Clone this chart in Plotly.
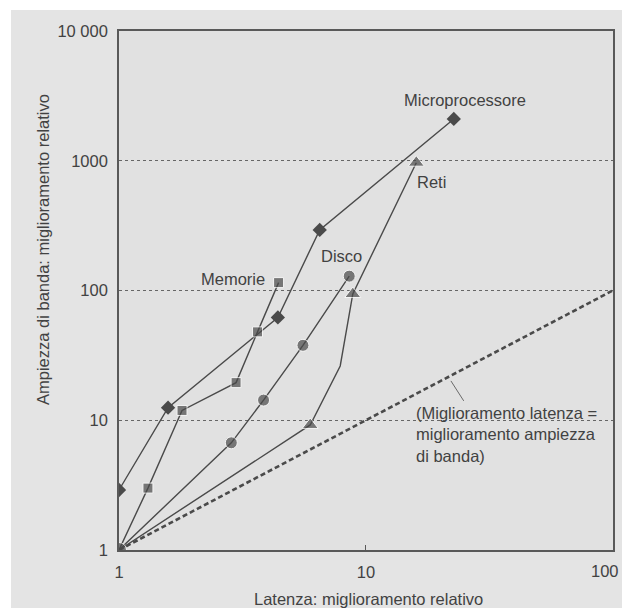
import plotly.graph_objects as go

# Relative improvement: latency (x) vs bandwidth (y)
lat_micro = [1, 1.58, 4.4, 6.5, 22.7]
bw_micro = [2.9, 12.5, 62, 293, 2100]

lat_mem = [1, 1.31, 1.80, 2.98, 3.64, 4.43]
bw_mem = [1, 3.0, 11.9, 19.5, 48, 115]

lat_disk = [1, 2.85, 3.85, 5.56, 8.56]
bw_disk = [1, 6.7, 14.3, 37.8, 129]

lat_net = [1, 5.95, 7.87, 8.85, 16.0]
bw_net = [1, 9.2, 26.2, 94, 966]

ref_lat = [1, 100]
ref_bw = [1, 100]

x_ticks = [1, 10, 100]
x_tick_text = ["1", "10", ""]   # the last label is placed by hand so it stays inside the page
x_last_label = "100"
y_ticks = [1, 10, 100, 1000, 10000]
y_tick_text = ["1", "10", "100", "1000", "10 000"]

W, H = 622, 608
L, R, T, B = 119, 613, 31, 550

INK = "#4a4a4a"
TEXT = "#424242"
FONT = "Arial, Liberation Sans, sans-serif"
FS = 16.5


def px(xp, yp):
    """Pixel position -> paper fraction."""
    return (xp - L) / (R - L), (B - yp) / (B - T)


fig = go.Figure()

line = dict(color=INK, width=1.4)

# y = x reference
fig.add_trace(go.Scatter(x=ref_lat, y=ref_bw, mode="lines",
                         line=dict(color=INK, width=2.6, dash="5px,3px"),
                         hoverinfo="skip"))

fig.add_trace(go.Scatter(x=lat_micro, y=bw_micro, mode="lines+markers", line=line,
                         marker=dict(symbol="diamond", size=11, color=INK)))

fig.add_trace(go.Scatter(x=lat_mem, y=bw_mem, mode="lines+markers", line=line,
                         marker=dict(symbol="square", size=[0, 10, 10, 10, 10, 10], color=INK)))

fig.add_trace(go.Scatter(x=lat_net, y=bw_net, mode="lines+markers", line=line,
                         marker=dict(symbol="triangle-up", size=[0, 14, 0, 14, 14], color=INK)))

fig.add_trace(go.Scatter(x=lat_disk, y=bw_disk, mode="lines+markers", line=line,
                         marker=dict(symbol="circle", size=[15, 12, 12, 12, 12], color=INK)))

# leader from the reference line to its caption
fig.add_trace(go.Scatter(x=[22.1, 24.9], y=[20.1, 14.1], mode="lines",
                         line=dict(color="#6a6a6a", width=1), hoverinfo="skip"))

labels = [
    ("Microprocessore", 465, 100, "center"),
    ("Reti", 431, 182, "center"),
    ("Disco", 341, 256, "center"),
    ("Memorie", 267, 279, "right"),
]
anns = []
for txt, xp, yp, al in labels:
    ax, ay = px(xp, yp)
    anns.append(dict(text=txt, x=ax, y=ay, xref="paper", yref="paper",
                     xanchor=al, yanchor="middle", showarrow=False,
                     font=dict(size=FS, color=TEXT, family=FONT)))

ax, ay = px(414, 434)
anns.append(dict(text="(Miglioramento latenza =<br>miglioramento ampiezza<br>di banda)",
                 x=ax, y=ay, xref="paper", yref="paper", xanchor="left", yanchor="middle",
                 align="left", showarrow=False,
                 font=dict(size=FS, color=TEXT, family=FONT)))

# right-most x tick label, pulled in to the page edge
ax, ay = px(621, 571)
anns.append(dict(text=x_last_label, x=ax, y=ay, xref="paper", yref="paper",
                 xanchor="right", yanchor="middle", showarrow=False,
                 font=dict(size=FS, color=TEXT, family=FONT)))

ax, ay = px(368, 599)
anns.append(dict(text="Latenza: miglioramento relativo", x=ax, y=ay,
                 xref="paper", yref="paper", xanchor="center", yanchor="middle",
                 showarrow=False, font=dict(size=FS, color=TEXT, family=FONT)))

ax, ay = px(43, 250)
anns.append(dict(text="Ampiezza di banda: miglioramento relativo", x=ax, y=ay,
                 xref="paper", yref="paper", xanchor="center", yanchor="middle",
                 textangle=-90, showarrow=False,
                 font=dict(size=FS, color=TEXT, family=FONT)))

# white scanner margins at the top and left edge
shapes = [
    dict(type="rect", xref="paper", yref="paper",
         x0=px(0, 0)[0], x1=px(W, 0)[0], y0=px(0, 10)[1], y1=px(0, 0)[1],
         fillcolor="white", line=dict(width=0), layer="below"),
    dict(type="rect", xref="paper", yref="paper",
         x0=px(0, 0)[0], x1=px(11, 0)[0], y0=px(0, H)[1], y1=px(0, 0)[1],
         fillcolor="white", line=dict(width=0), layer="below"),
]

fig.update_layout(
    width=W, height=H,
    margin=dict(l=L, r=W - R, t=T, b=H - B, pad=0, autoexpand=False),
    paper_bgcolor="#e4e4e4",
    plot_bgcolor="#e1e1e1",
    showlegend=False,
    annotations=anns,
    shapes=shapes,
    font=dict(family=FONT, color=TEXT, size=FS),
)

fig.update_xaxes(type="log", range=[0, 2.0008], tickvals=x_ticks, ticktext=x_tick_text,
                 showgrid=False, zeroline=False, automargin=False,
                 showline=True, mirror=True, linecolor="#595959", linewidth=1.6,
                 ticks="inside", ticklen=5, tickcolor="#595959", tickwidth=1,
                 ticklabelstandoff=6,
                 tickfont=dict(size=FS, color=TEXT, family=FONT))

fig.update_yaxes(type="log", range=[0, 4], tickvals=y_ticks, ticktext=y_tick_text,
                 showgrid=True, gridcolor="#666666", gridwidth=1.4, griddash="dot",
                 zeroline=False, automargin=False,
                 showline=True, mirror=True, linecolor="#595959", linewidth=1.6,
                 ticks="", ticklabelstandoff=6,
                 tickfont=dict(size=FS, color=TEXT, family=FONT))

fig.write_html("out.html")
